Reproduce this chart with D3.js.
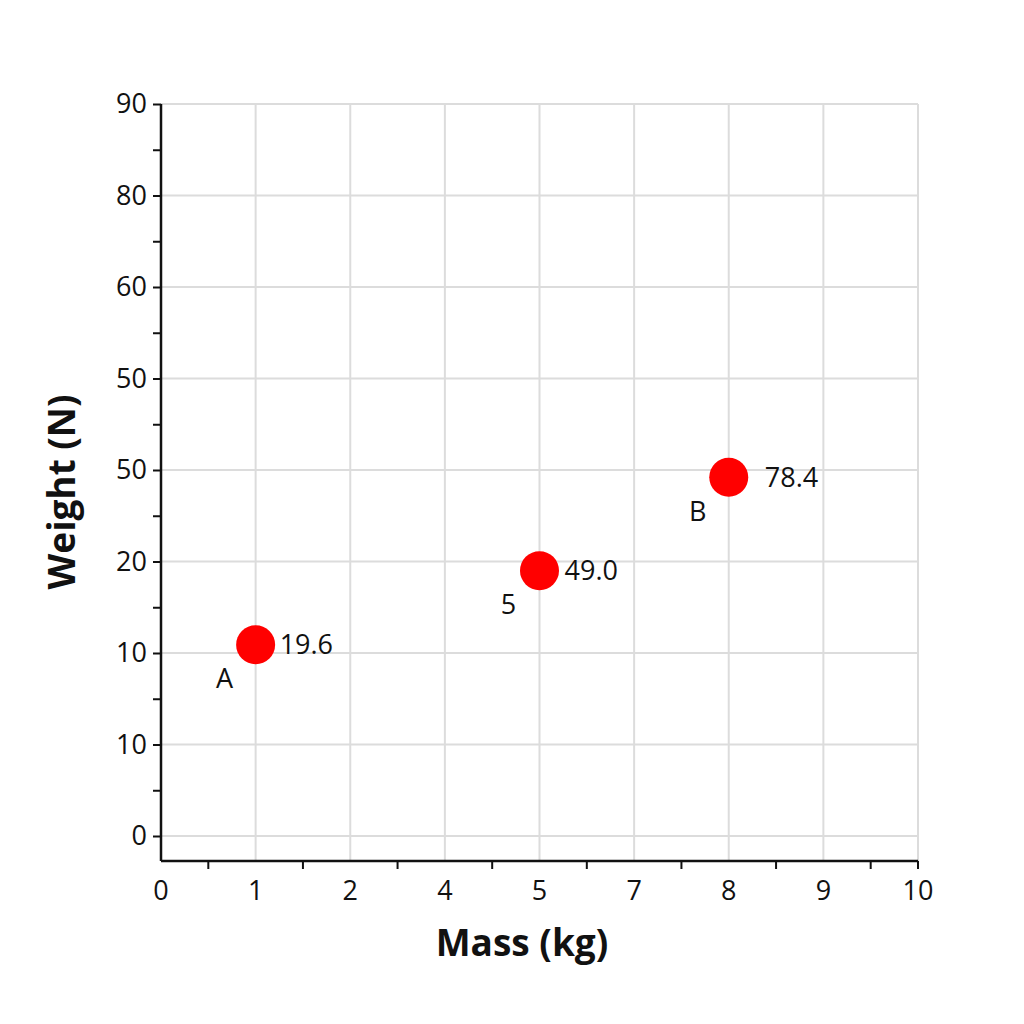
<!DOCTYPE html>
<html>
<head>
<meta charset="utf-8">
<script src="https://cdn.jsdelivr.net/npm/d3@7"></script>
<style>
  html, body { margin: 0; padding: 0; background: #fff; }
  svg { display: block; }
  text { font-family: "Open Sans", "Noto Sans", sans-serif; fill: #111; }
</style>
</head>
<body>
<svg id="chart" width="1024" height="1024"></svg>
<script>
// Tick labels exactly as printed on the reference axes
const xTickLabels = ["0", "1", "2", "4", "5", "7", "8", "9", "10"];
const yTickLabels = ["0", "10", "10", "20", "50", "50", "60", "80", "90"];

// Points: x category (tick label), y position in tick-index units, value label, point name
const pointX = ["1", "5", "8"];
const pointY = [2.09, 2.90, 3.92];
const valueLabels = ["19.6", "49.0", "78.4"];
const pointNames = ["A", "5", "B"];

const xTitle = "Mass (kg)";
const yTitle = "Weight (N)";

const svg = d3.select("#chart");
const pLeft = 161, pRight = 918, pTop = 104, pBottom = 861;
const fs = "27px";

const x = d3.scalePoint().domain(xTickLabels).range([pLeft, pRight]);
const yIdx = d3.scaleLinear().domain([0, yTickLabels.length - 1]).range([836, pTop]);

// grid
const grid = svg.append("g");
grid.selectAll("line.v").data(xTickLabels.slice(1)).join("line")
  .attr("x1", d => x(d)).attr("x2", d => x(d))
  .attr("y1", pTop).attr("y2", pBottom)
  .attr("stroke", "#dcdcdc").attr("stroke-width", 2);
grid.selectAll("line.h").data(d3.range(yTickLabels.length)).join("line")
  .attr("x1", pLeft).attr("x2", pRight)
  .attr("y1", d => yIdx(d)).attr("y2", d => yIdx(d))
  .attr("stroke", "#dcdcdc").attr("stroke-width", 2);

// Y axis
const yTicksAll = d3.range(0, yTickLabels.length - 0.5, 0.5);
const yAxis = d3.axisLeft(yIdx).tickValues(yTicksAll)
  .tickSize(8).tickPadding(6)
  .tickFormat(d => Number.isInteger(d) ? yTickLabels[d] : "");
const gy = svg.append("g").attr("transform", `translate(${pLeft},0)`).call(yAxis);
gy.select(".domain").remove();
gy.append("line").attr("x1", 0).attr("x2", 0).attr("y1", pTop).attr("y2", pBottom)
  .attr("stroke", "#111").attr("stroke-width", 2.5);
gy.selectAll(".tick line").attr("stroke", "#111").attr("stroke-width", 2);
gy.selectAll(".tick text").style("font-size", fs).style("font-family", "'Open Sans', sans-serif").attr("fill", "#111");

// X axis: labels at categories, ticks halfway between
const step = x.step();
const gx = svg.append("g").attr("transform", `translate(0,${pBottom})`);
gx.append("line").attr("x1", pLeft).attr("x2", pRight).attr("y1", 0).attr("y2", 0)
  .attr("stroke", "#111").attr("stroke-width", 2.5);
const halfTicks = xTickLabels.slice(1).map(d => x(d) - step / 2).concat([pRight]);
gx.selectAll("line.t").data(halfTicks).join("line")
  .attr("x1", d => d).attr("x2", d => d).attr("y1", 0).attr("y2", 8)
  .attr("stroke", "#111").attr("stroke-width", 2);
gx.selectAll("text").data(xTickLabels).join("text")
  .attr("x", d => x(d)).attr("y", 39)
  .attr("text-anchor", "middle")
  .style("font-size", fs)
  .text(d => d);

// titles
svg.append("text").attr("x", 522).attr("y", 956).attr("text-anchor", "middle")
  .style("font-size", "37px").style("font-weight", "bold").text(xTitle);
svg.append("text").attr("transform", "translate(75,492) rotate(-90)").attr("text-anchor", "middle")
  .style("font-size", "37px").style("font-weight", "bold").text(yTitle);

// points
const pts = pointX.map((d, i) => ({ x: d, y: pointY[i], v: valueLabels[i], n: pointNames[i] }));
const valueDx = [24, 25, 36];
const g = svg.append("g");
g.selectAll("circle").data(pts).join("circle")
  .attr("cx", d => x(d.x)).attr("cy", d => yIdx(d.y))
  .attr("r", 19.5).attr("fill", "#ff0000");
g.selectAll("text.v").data(pts).join("text").attr("class", "v")
  .attr("x", (d, i) => x(d.x) + valueDx[i]).attr("y", d => yIdx(d.y))
  .attr("dy", "0.36em").style("font-size", fs).text(d => d.v);
g.selectAll("text.n").data(pts).join("text").attr("class", "n")
  .attr("x", d => x(d.x) - 31).attr("y", d => yIdx(d.y) + 34)
  .attr("dy", "0.36em").attr("text-anchor", "middle").style("font-size", fs).text(d => d.n);
</script>
</body>
</html>
